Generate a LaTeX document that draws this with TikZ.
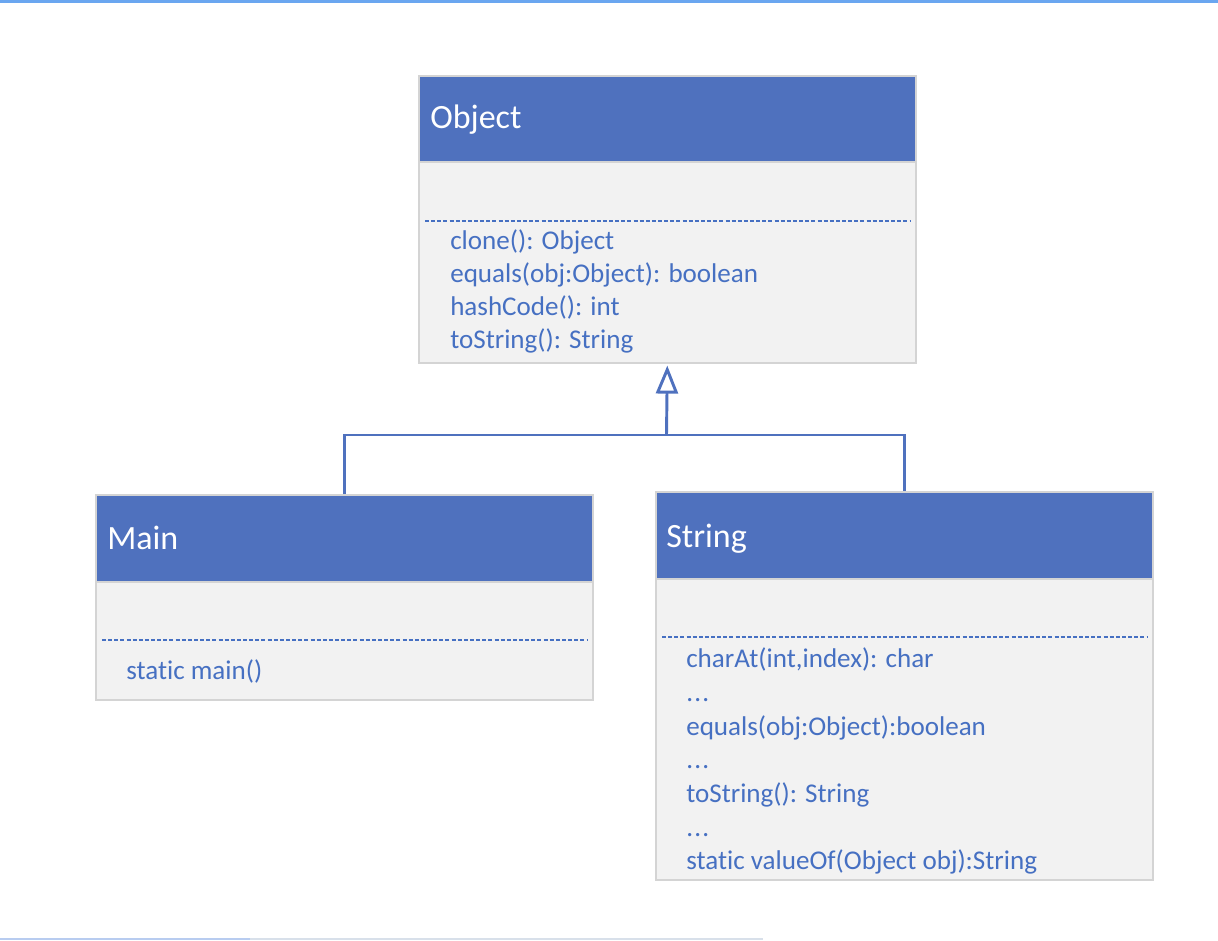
\documentclass[tikz,border=0pt]{standalone}
\usepackage{fontspec}
\setmainfont{Carlito}[Ligatures=NoCommon]
\usetikzlibrary{arrows.meta}
\definecolor{hdr}{HTML}{4F71BE}
\definecolor{bodyfill}{HTML}{F2F2F2}
\definecolor{edge}{HTML}{D4D4D4}
\definecolor{txt}{HTML}{4670C2}
\definecolor{topline}{HTML}{6AA6F0}
\definecolor{botline}{HTML}{D8E0EA}
\definecolor{botblue}{HTML}{B8CCF0}
\newcommand{\dotsx}{.\kern0.9pt.\kern0.9pt.}
\begin{document}
\begin{tikzpicture}[x=0.75pt,y=-0.75pt,
 classbox/.style={draw=edge, line width=1.2pt, fill=bodyfill, anchor=north west, inner sep=0pt, minimum width={497*0.75pt}},
 header/.style={draw=edge, line width=1.2pt, fill=hdr, anchor=north west, inner sep=0pt, minimum width={497*0.75pt}, minimum height={86*0.75pt}},
 title/.style={anchor=base west, inner sep=0pt, text=white, font=\fontsize{25.5pt}{30pt}\selectfont},
 member/.style={anchor=base west, inner sep=0pt, text=txt, font=\fontsize{20.3pt}{24pt}\selectfont},
 sep/.style={draw=txt, line width=1.6pt, dash pattern=on 3pt off 1.6pt},
 conn/.style={draw=hdr, line width=2.2pt}]
\useasboundingbox (0,0) rectangle (1218,940);
\fill[topline] (0,0) rectangle (1218,3);
\fill[botline] (0,937.5) rectangle (763,940);
\fill[botblue] (0,937.5) rectangle (250,940);

% Object
\node[classbox, minimum height={287*0.75pt}] (objbox) at (418,75) {};
\node[header] (objhead) at (418,75) {};
\node[title] (objtitle) at (430,128) {Object};
\draw[sep] (425,221) -- (910,221);
\node[member] (o1) at (450,249) {clone(): Object};
\node[member] (o2) at (450,282) {equals(obj:Object): boolean};
\node[member] (o3) at (450,315) {hashCode(): int};
\node[member] (o4) at (450,348) {toString(): String};

% Main
\node[classbox, minimum height={205*0.75pt}] (mainbox) at (95,494) {};
\node[header, minimum height={87*0.75pt}] (mainhead) at (95,494) {};
\node[title] (maintitle) at (107,549) {Main};
\draw[sep] (102,640) -- (587,640);
\node[member] (m1) at (126,679) {static main()};

% String
\node[classbox, minimum height={388*0.75pt}] (strbox) at (655,491) {};
\node[header, minimum height={87*0.75pt}] (strhead) at (655,491) {};
\node[title] (strtitle) at (666,547) {String};
\draw[sep] (662,637) -- (1147,637);
\node[member] (s1) at (686,667) {charAt(int,index): char};
\node[member] (s2) at (686,701) {\dotsx};
\node[member] (s3) at (686,735) {equals(obj:Object):boolean};
\node[member] (s4) at (686,768) {\dotsx};
\node[member] (s5) at (686,802) {toString(): String};
\node[member] (s6) at (686,836) {\dotsx};
\node[member] (s7) at (686,869) {static valueOf(Object obj):String};

% connectors
\coordinate (j) at (666.5,435);
\draw[conn] (mainbox.north) |- (j) -| (strbox.north);
\draw[conn, -{Triangle[open, width=16.5pt, length=21pt]}] (j) -- ([yshift=-1.5pt]objbox.south);
\end{tikzpicture}
\end{document}
